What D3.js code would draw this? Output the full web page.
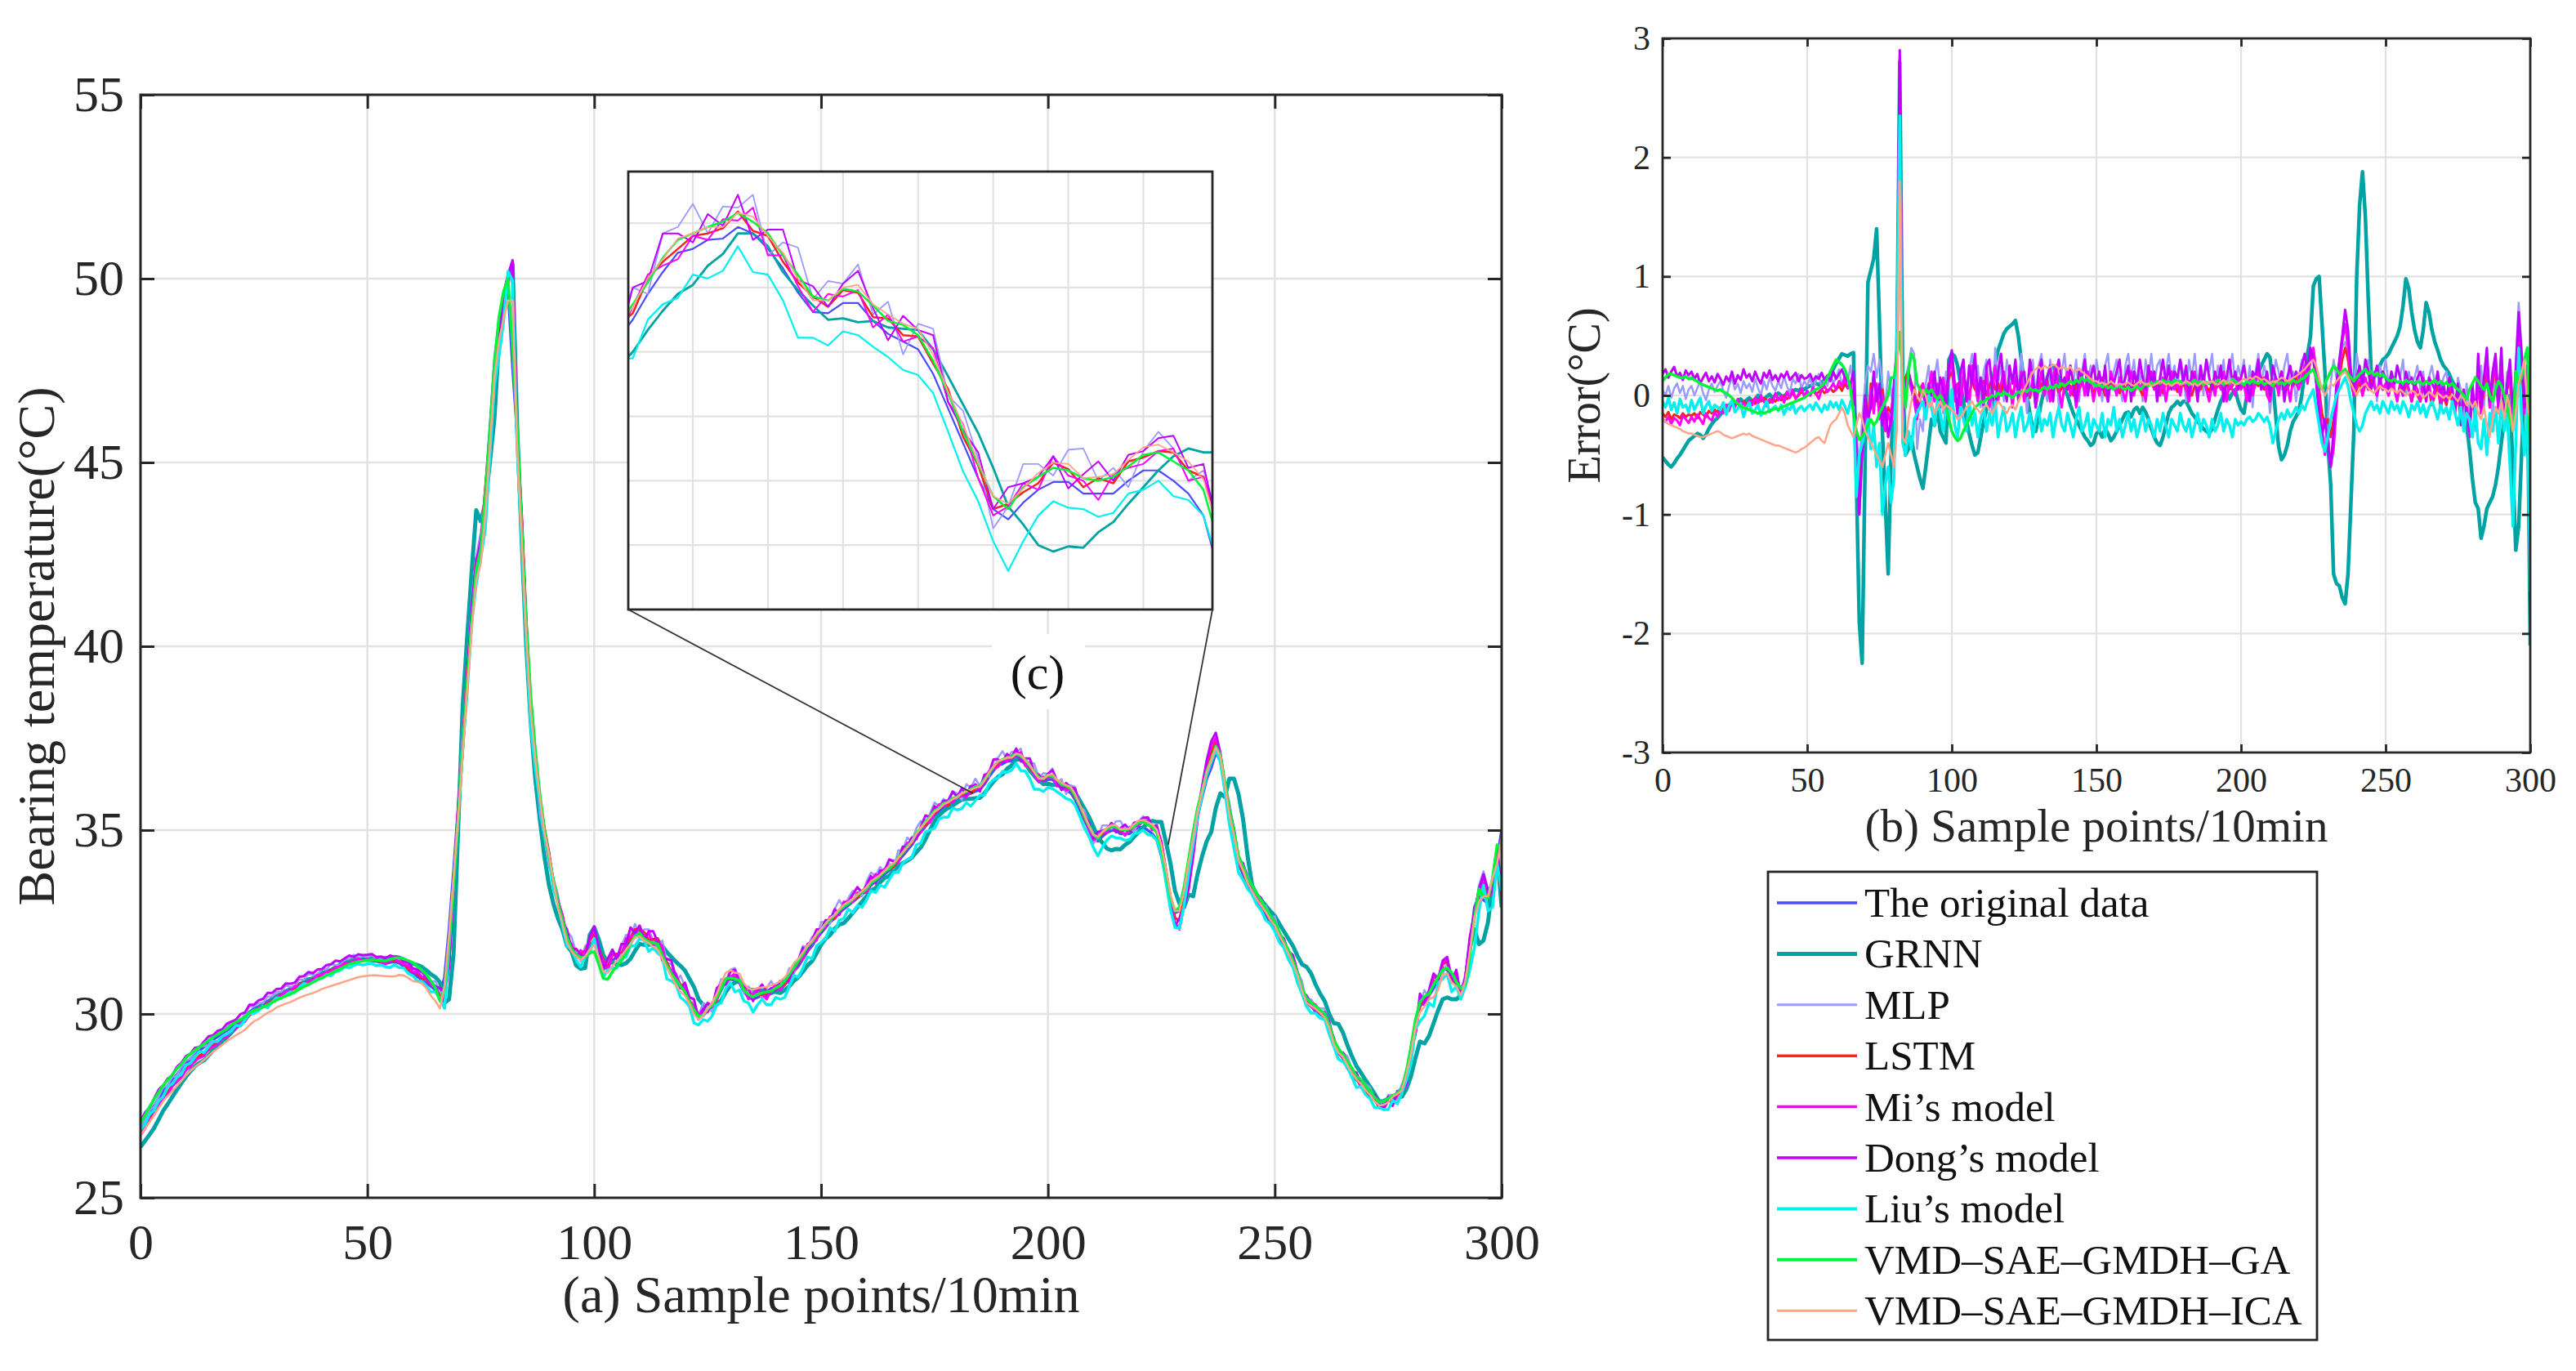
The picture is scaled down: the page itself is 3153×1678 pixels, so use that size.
<!DOCTYPE html>
<html>
<head>
<meta charset="utf-8">
<script src="https://cdn.jsdelivr.net/npm/d3@7/dist/d3.min.js"></script>
<style>
  body { margin: 0; background: #fff; }
</style>
</head>
<body>
<div id="chart"></div>
<script>
// ---- data ----
const sampleTicks = [0, 50, 100, 150, 200, 250, 300]
const tempTicks = [25, 30, 35, 40, 45, 50, 55]
const errorTicks = [-3, -2, -1, 0, 1, 2, 3]
const zoomSampleTicks = [190, 195, 200, 205, 210, 215, 220]
const zoomTempTicks = [34.5, 35, 35.5, 36, 36.5, 37]
const zoomSampleRange = [185.7, 224.6]
const zoomTempRange = [34.0, 37.4]
// points on the curve the zoom connectors point to (sample, temperature)
const calloutPoints = [[183.5, 36.0], [226.5, 34.6]]

const seriesNames = ['The original data', 'GRNN', 'MLP', 'LSTM', 'Mi’s model', 'Dong’s model', 'Liu’s model', 'VMD–SAE–GMDH–GA', 'VMD–SAE–GMDH–ICA']

// measured bearing temperature, one value per sample (°C)
const original = [
  26.90, 27.10, 27.30, 27.50, 27.70, 27.90, 28.05, 28.20, 28.35, 28.50,
  28.65, 28.78, 28.90, 29.00, 29.10, 29.20, 29.30, 29.38, 29.47, 29.55,
  29.65, 29.75, 29.83, 29.92, 30.05, 30.15, 30.20, 30.28, 30.35, 30.42,
  30.50, 30.57, 30.63, 30.68, 30.75, 30.82, 30.88, 30.93, 30.98, 31.04,
  31.10, 31.15, 31.20, 31.25, 31.30, 31.35, 31.40, 31.43, 31.45, 31.46,
  31.46, 31.45, 31.43, 31.40, 31.38, 31.40, 31.42, 31.38, 31.30, 31.20,
  31.10, 31.02, 30.93, 30.85, 30.75, 30.65, 30.50, 31.00, 32.30, 33.90,
  35.60, 37.40, 39.20, 40.90, 42.30, 42.80, 44.20, 45.90, 47.70, 48.80,
  49.50, 49.70, 47.60, 45.80, 43.40, 40.50, 38.30, 36.90, 35.90, 35.00,
  34.30, 33.60, 33.00, 32.50, 32.10, 31.80, 31.62, 31.58, 31.65, 31.85,
  32.00, 31.70, 31.35, 31.30, 31.45, 31.55, 31.65, 31.80, 32.00, 32.20,
  32.25, 32.10, 32.00, 31.95, 31.90, 31.60, 31.30, 31.10, 30.90, 30.75,
  30.60, 30.35, 30.10, 29.90, 29.95, 30.10, 30.20, 30.40, 30.65, 30.90,
  30.95, 30.90, 30.85, 30.60, 30.45, 30.40, 30.45, 30.50, 30.50, 30.55,
  30.60, 30.65, 30.80, 30.95, 31.15, 31.30, 31.50, 31.70, 31.85, 32.05,
  32.20, 32.35, 32.50, 32.60, 32.75, 32.85, 32.95, 33.05, 33.15, 33.25,
  33.35, 33.50, 33.60, 33.70, 33.80, 33.90, 34.00, 34.15, 34.30, 34.45,
  34.60, 34.80, 34.95, 35.10, 35.25, 35.40, 35.50, 35.60, 35.65, 35.75,
  35.80, 35.88, 35.95, 36.00, 36.05, 36.10, 36.25, 36.45, 36.62, 36.77,
  36.80, 36.87, 36.88, 36.97, 36.92, 36.80, 36.65, 36.46, 36.31, 36.30,
  36.38, 36.38, 36.24, 36.14, 36.08, 36.02, 35.83, 35.56, 35.29, 35.02,
  34.78, 34.70, 34.83, 34.93, 34.99, 34.99, 34.90, 34.90, 34.90, 35.00,
  35.08, 35.08, 35.00, 34.90, 34.73, 34.30, 33.70, 33.10, 32.75, 32.80,
  33.30, 34.00, 34.70, 35.40, 35.90, 36.40, 36.70, 37.10, 36.90, 36.20,
  35.40, 34.80, 34.10, 33.80, 33.50, 33.30, 33.10, 32.90, 32.70, 32.50,
  32.35, 32.10, 31.85, 31.60, 31.35, 31.00, 30.60, 30.30, 30.20, 30.10,
  30.00, 29.90, 29.60, 29.20, 28.95, 28.80, 28.60, 28.40, 28.20, 28.10,
  27.95, 27.80, 27.65, 27.50, 27.55, 27.65, 27.75, 27.85, 28.00, 28.40,
  29.00, 29.70, 30.20, 30.40, 30.50, 30.70, 31.00, 31.25, 31.20, 31.00,
  30.80, 30.70, 30.90, 31.80, 32.90, 33.20, 33.10, 33.00, 33.40, 34.20,
  35.00
]

// prediction errors per model, in 0.01 °C (prediction minus original)
const errGRNN = [
  -52, -55, -58, -60, -57, -53, -50, -46, -42, -38,
  -36, -34, -32, -33, -36, -33, -28, -24, -21, -19,
  -16, -13, -10, -8, -6, -8, -5, -3, -6, -4,
  -2, -5, -3, 0, -2, -4, -1, 1, -2, 0,
  2, 0, -1, 2, 4, 3, 5, 4, 6, 5,
  7, 8, 9, 10, 9, 11, 13, 15, 18, 22,
  27, 31, 35, 34, 33, 35, 36, -70, -190, -225,
  -60, 95, 105, 115, 140, 60, -30, -90, -150, -50,
  0, 30, 280, 20, -50, -45, -35, -50, -60, -70,
  -78, -60, -40, -20, -25, -10, -30, -35, -40, 30,
  35, 33, 25, 10, -5, -20, -32, -42, -50, -48,
  -35, -22, -12, -5, 10, 25, 38, 45, 52, 56,
  58, 60, 63, 50, 30, 12, 0, -15, -28, -30,
  -18, -5, 5, 15, 22, 25, 20, 14, 10, 5,
  0, -8, -15, -20, -25, -30, -35, -38, -42, -40,
  -32, -30, -35, -28, -32, -38, -35, -30, -25, -20,
  -15, -14, -18, -12, -10, -15, -10, -14, -20, -28,
  -35, -40, -42, -35, -25, -15, -10, -8, -5, -8,
  -5, -5, -10, -15, -18, -22, -25, -28, -30, -32,
  -28, -20, -12, -5, 0, 2, -3, 2, 5, -5,
  -12, -15, 0, 5, 10, 15, 19, 25, 30, 35,
  32, 10, -17, -43, -54, -50, -42, -30, -22, -18,
  -13, 0, 19, 35, 49, 92, 98, 100, 60, 20,
  -40, -75, -150, -158, -160, -170, -175, -150, -90, -30,
  100, 160, 188, 150, 80, 20, 15, 20, 25, 30,
  32, 35, 40, 45, 50, 58, 75, 98, 90, 70,
  55, 45, 40, 55, 78, 70, 55, 45, 38, 30,
  25, 22, 18, 12, 8, 5, 0, -10, -25, -45,
  -70, -90, -95, -120, -110, -95, -90, -85, -75, -60,
  -40, -20, -5, 0, -60, -130, -110, -50, 10, 20,
  -210
]
const errMLP = [
  5, 0, 8, -2, 6, 10, 2, 8, -3, 5,
  8, 0, 6, 12, 2, -4, 5, 10, 3, 8,
  12, 4, -2, 8, 15, 5, 10, 2, 12, 6,
  10, 3, 14, 6, 0, 12, 5, 15, 8, 4,
  12, 6, 16, 8, 2, 14, 10, 18, 6, 12,
  8, 15, 5, 12, 18, 6, 14, 8, 20, 10,
  15, 22, 8, 18, 12, 25, 5, -30, -60, -20,
  10, 25, 20, 35, 15, 30, 10, -10, 20, 5,
  -20, 10, 270, -30, 15, 25, 40, 35, -45, -20,
  -30, 10, 25, -10, 15, 30, 5, -15, 20, 10,
  35, 5, -20, 15, 30, -5, 20, 35, 10, 25,
  -10, 20, 30, 5, -15, 40, 10, 25, -5, 30,
  15, -10, 25, 5, 35, 10, -15, 20, 30, 0,
  25, 35, 10, -5, 30, 15, 25, -10, 20, 35,
  5, 25, 10, 30, -5, 20, 35, 10, 25, 0,
  30, 15, -5, 25, 35, 5, 20, 30, 10, -5,
  25, 35, 15, 30, 5, 20, -5, 30, 15, 35,
  10, 25, 30, 0, 20, 35, 15, 25, 5, 30,
  20, -5, 30, 15, 35, 10, 25, 0, 30, 20,
  35, 5, 25, 15, 30, -5, 20, 35, 10, 25,
  15, 30, 5, 25, -10, 20, 35, 10, 25, 15,
  -15, 10, 30, 20, 5, 25, 35, 10, 20, -5,
  15, 30, 25, 10, 35, 40, 20, -10, -30, -40,
  -20, 10, 30, 15, 25, 40, 45, 30, 20, 10,
  35, 20, 5, 25, 30, 10, 20, -5, 25, 15,
  30, 10, 20, 5, 25, 15, 30, 0, 20, 10,
  15, 25, 5, 20, -5, 15, 25, 10, 20, 5,
  15, 20, 0, 10, -10, 15, 5, -20, 10, -15,
  5, -30, 10, 25, -10, 30, 5, -20, 25, 10,
  15, -10, 20, 5, -25, 30, 78, 40, 10, 20,
  -160
]
const errLSTM = [
  -15, -18, -14, -20, -16, -17, -19, -15, -18, -16,
  -17, -15, -19, -14, -16, -18, -13, -15, -12, -14,
  -10, -12, -8, -11, -7, -9, -6, -8, -5, -7,
  -6, -4, -7, -3, -5, -2, -4, -6, -3, -5,
  -2, -4, 0, -3, -1, 2, -2, 0, 3, 1,
  2, 0, 4, 1, 3, 5, 2, 4, 6, 3,
  5, 8, 4, 10, 6, 8, -5, -50, -85, -40,
  -5, -20, 10, -10, 5, -15, 5, -20, -10, -15,
  5, 25, 275, -10, 15, 20, 10, 5, -10, 5,
  10, -5, 8, 15, 0, 5, -5, 10, 5, 15,
  20, 5, 10, -5, 15, 8, 0, 12, 5, 10,
  5, 12, 0, 8, 15, 5, 10, 2, 12, 5,
  8, 0, 10, 5, 12, 2, 8, -2, 10, 5,
  3, 10, 5, 12, 0, 8, 10, 2, 6, 10,
  5, 8, 0, 10, 5, 12, 3, 8, 10, 2,
  8, 5, 10, 0, 6, 12, 5, 8, 2, 10,
  5, 10, 3, 8, 12, 5, 0, 10, 8, 12,
  5, 8, 10, 2, 12, 5, 8, 10, 3, 8,
  10, 5, 12, 0, 8, 10, 5, 12, 8, 3,
  10, 5, 8, 12, 2, 10, 5, 8, 12, 5,
  10, 8, 3, 12, 5, 10, 8, 15, 5, 10,
  0, 12, 8, 5, 15, 10, 5, 12, 8, 15,
  10, 15, 22, 18, 30, 35, 20, 5, -15, -25,
  -20, -35, -20, 0, 15, 30, 40, 30, 10, 0,
  5, 12, 0, 10, 5, 15, 8, 0, 10, 5,
  8, 0, 10, 5, -2, 8, 0, 10, 5, -5,
  5, 0, -5, 8, 0, 5, -8, 0, 10, -10,
  0, -8, 5, -5, -12, 0, -15, -5, -10, -25,
  0, -20, 10, -15, 5, 20, -10, 10, 25, -12,
  20, -20, 5, 15, -15, 10, 45, 20, -10, 10,
  -180
]
const errMi = [
  -20, -22, -18, -24, -19, -21, -25, -17, -20, -23,
  -18, -22, -16, -20, -24, -15, -19, -21, -14, -18,
  -12, -15, -8, -13, -5, -10, -3, -9, -6, -11,
  -4, -8, -2, -7, 0, -5, -9, -3, -6, 2,
  -4, 0, -6, 3, -2, 5, -3, 1, 6, -1,
  4, 0, 7, 2, -3, 5, 8, 3, 6, 10,
  5, 12, 8, 15, 6, 10, -10, -60, -100, -45,
  -10, -25, 5, -15, 10, -20, 0, -30, -15, -25,
  0, 30, 285, -15, 10, 15, 5, -5, -20, 0,
  10, -15, 5, 20, -5, 10, -10, 15, 0, 20,
  30, -5, 10, -15, 20, 5, -10, 25, 10, -5,
  15, 0, 20, -10, 5, 25, -5, 10, 20, 0,
  10, -10, 15, 5, 20, -5, 10, 0, 15, -10,
  5, 20, 0, 10, -5, 15, 25, 5, -10, 10,
  20, 0, 10, -10, 5, 15, 0, 20, 10, -5,
  10, 0, 15, 5, -5, 20, 10, 0, 15, 5,
  -5, 10, 20, 0, 15, 5, 10, -5, 15, 20,
  5, 10, 0, 15, -5, 10, 20, 5, 10, 0,
  15, 5, -5, 10, 20, 0, 10, 15, 5, -5,
  10, 0, 15, 5, 20, -5, 10, 5, 0, 15,
  5, 10, -5, 15, 0, 10, 20, 5, 15, 0,
  -5, 10, 15, 0, 20, 5, 10, -5, 15, 10,
  5, 15, 25, 10, 30, 40, 20, 0, -30, -50,
  -35, -60, -45, -10, 20, 45, 60, 40, 15, 0,
  10, 20, 0, 15, 5, 20, 10, 0, 15, 5,
  10, 0, 15, 5, -5, 10, 0, 15, 5, -5,
  10, 5, -5, 15, 0, 10, -5, 5, 15, -10,
  5, -5, 10, 0, -15, 5, -20, 0, -10, -35,
  5, -25, 20, -15, 10, 35, -10, 15, 30, -15,
  35, -25, 5, 25, -20, 15, 62, 30, -15, 20,
  -170
]
const errDong = [
  18, 22, 15, 20, 24, 16, 19, 13, 21, 17,
  20, 14, 18, 10, 15, 19, 12, 16, 11, 18,
  14, 9, 16, 12, 20, 10, 17, 13, 22, 15,
  18, 12, 20, 14, 10, 19, 15, 21, 13, 17,
  12, 18, 15, 20, 13, 16, 19, 12, 17, 14,
  15, 18, 12, 16, 14, 19, 13, 17, 12, 20,
  14, 18, 22, 15, 12, 10, 20, -40, -100, -50,
  0, -20, -10, 20, -5, 10, -25, -10, -35, -20,
  10, 40, 290, -20, 5, 20, 10, 0, -10, -5,
  5, -10, 10, 0, 20, -5, 15, 5, -10, 25,
  38, 10, -15, 20, 30, -5, 25, 10, 35, 0,
  15, -10, 25, 30, 5, -15, 20, 35, 10, -5,
  25, 10, 30, -5, 15, 20, 0, 30, 15, -10,
  20, 30, 5, 15, 25, -5, 20, 30, 10, 15,
  5, 25, 10, -5, 20, 15, 30, 0, 15, 25,
  10, 20, 5, 25, -5, 15, 10, 20, 30, 5,
  15, 25, -5, 20, 10, 30, 15, 5, 25, 10,
  20, -5, 15, 30, 10, 25, 5, 20, 15, 30,
  10, 25, 0, 20, 15, -5, 25, 10, 30, 15,
  5, 20, 10, 25, -5, 15, 30, 10, 20, 5,
  15, 25, 10, -5, 20, 15, 30, 5, 10, 20,
  0, 25, 15, 10, 20, -5, 15, 25, 10, 20,
  15, 25, 35, 20, 40, 30, 10, -15, -35, -20,
  -40, -60, -30, 10, 30, 50, 72, 55, 20, 5,
  15, 25, 10, 30, 20, 5, 15, 25, 10, 20,
  15, 5, 20, 10, 25, 15, 0, 20, 10, 15,
  5, 15, 20, 10, -5, 15, 10, 5, 20, 0,
  10, -5, 15, 5, -10, 10, -25, 5, -15, -30,
  10, -20, 35, -10, 15, 40, -5, 20, 35, -10,
  40, -20, 10, 30, -15, 20, 70, 35, -10, 25,
  -165
]
const errLiu = [
  -5, -10, -2, -12, -6, -15, -3, -10, -8, -14,
  -4, -12, -7, -2, -15, -9, -5, -13, -8, -10,
  -12, -6, -16, -9, -4, -14, -11, -7, -18, -10,
  -6, -15, -12, -8, -17, -10, -5, -14, -11, -9,
  -13, -8, -16, -10, -12, -7, -15, -11, -9, -13,
  -10, -8, -12, -6, -10, -14, -8, -12, -5, -10,
  -6, -12, -4, -9, -15, -5, -10, -85, -50, -40,
  -30, -20, -45, -25, -60, -40, -100, -75, -60, -90,
  -70, 50, 235, -40, -50, -30, -45, -20, -15, -10,
  -5, -20, 0, -10, -25, -5, -15, -30, -10, -20,
  5, -25, -35, -10, -20, -30, -5, -25, -15, -35,
  -20, -10, -30, -15, -25, -5, -35, -20, -10, -30,
  -25, -15, -35, -20, -10, -30, -25, -15, -35, -20,
  -10, -30, -20, -25, -15, -35, -20, -10, -25, -30,
  -15, -25, -35, -20, -10, -30, -25, -15, -35, -20,
  -25, -30, -15, -35, -20, -25, -10, -30, -20, -35,
  -25, -15, -30, -20, -35, -25, -15, -30, -20, -25,
  -35, -20, -30, -15, -25, -35, -20, -25, -30, -15,
  -25, -30, -20, -35, -25, -15, -30, -20, -25, -35,
  -20, -30, -25, -15, -30, -20, -25, -35, -20, -25,
  -22, -25, -20, -18, -22, -20, -15, -18, -22, -18,
  -25, -40, -30, -20, -15, -20, -12, -18, -15, -10,
  -15, -8, -12, -5, 0, 5, -10, -25, -40, -47,
  -35, -20, -10, 0, 5, 10, 15, 8, -5, -15,
  -25, -30, -25, -15, -10, -5, -12, -8, -15, -5,
  -10, -15, -5, -12, -8, -15, -5, -10, -18, -8,
  -12, -5, -15, -8, -18, -10, -5, -12, -20, -8,
  -15, -10, -20, -5, -15, -25, -10, -30, -15, -20,
  -35, -10, -40, -45, -20, -50, -15, -30, -10, -40,
  -5, -30, -15, -60, -110, -40, 40, -20, -50, -10,
  -165
]
const errGA = [
  12, 15, 18, 18, 17, 16, 15, 15, 16, 14,
  15, 13, 12, 10, 9, 8, 7, 6, 5, 4,
  5, 3, 2, 0, -2, -5, -7, -9, -10, -11,
  -12, -13, -14, -15, -14, -15, -14, -13, -12, -11,
  -12, -10, -9, -8, -7, -6, -5, -4, -3, -2,
  0, 2, 3, 5, 6, 8, 10, 15, 20, 25,
  30, 28, 26, 22, 15, 5, -15, -30, -37, -35,
  -30, -25, -20, -25, -22, -15, -10, -5, 0, 15,
  15, 30, 53, 20, -10, 20, 35, 30, 10, 5,
  0, 5, 2, 5, 0, -3, 0, -5, -10, -20,
  -30, -35, -38, -36, -30, -25, -20, -15, -10, -8,
  -5, -6, -3, -2, 0, -1, 2, 0, 3, 1,
  0, -2, 1, 3, 2, 5, 3, 6, 4, 5,
  3, 5, 7, 5, 8, 6, 9, 7, 10, 8,
  10, 12, 10, 13, 11, 15, 12, 14, 11, 10,
  8, 10, 7, 9, 6, 8, 5, 7, 9, 6,
  5, 7, 4, 6, 8, 5, 7, 10, 8, 11,
  9, 12, 10, 13, 11, 12, 10, 13, 11, 12,
  10, 12, 9, 11, 13, 10, 12, 9, 11, 10,
  12, 10, 13, 11, 9, 12, 10, 14, 12, 10,
  11, 9, 12, 10, 13, 11, 10, 12, 9, 11,
  10, 8, 12, 10, 11, 9, 12, 10, 13, 11,
  12, 14, 15, 18, 20, 22, 15, 8, 5, 10,
  15, 20, 25, 22, 18, 20, 22, 18, 15, 12,
  15, 18, 20, 22, 18, 20, 17, 19, 16, 18,
  15, 13, 12, 14, 11, 12, 10, 13, 11, 12,
  10, 12, 11, 9, 12, 10, 11, 13, 10, 12,
  9, 11, 8, 10, 7, 5, 3, 0, -3, 5,
  10, 15, 12, 8, 5, 10, 0, -5, 5, 12,
  8, 0, -10, -20, -30, 20, 10, 15, 30, 40,
  -50
]
const errICA = [
  -20, -22, -24, -25, -26, -27, -28, -30, -31, -32,
  -32, -33, -34, -35, -35, -34, -33, -32, -31, -30,
  -31, -33, -34, -35, -36, -35, -34, -33, -32, -33,
  -32, -34, -35, -36, -37, -38, -39, -40, -41, -42,
  -42, -43, -44, -45, -46, -47, -48, -47, -45, -44,
  -42, -40, -38, -36, -35, -38, -40, -32, -25, -22,
  -20, -15, -10, -15, -25, -30, -35, -25, -15, -20,
  -30, -35, -40, -45, -50, -55, -60, -50, -40, -50,
  -60, -30, 180, -35, -40, -20, -5, 5, 0, -5,
  5, 0, -10, -5, -15, -10, -5, -12, -8, -10,
  -12, -15, -20, -18, -15, -10, -8, -5, -10, -12,
  -15, -10, -8, -12, -15, -10, -5, -8, -12, -15,
  -10, -8, -12, -5, 0, 5, 10, 15, 20, 22,
  24, 22, 25, 23, 24, 26, 25, 22, 24, 23,
  22, 24, 20, 21, 23, 20, 18, 16, 14, 12,
  12, 10, 11, 9, 10, 12, 10, 8, 10, 9,
  10, 11, 9, 8, 10, 12, 11, 9, 10, 8,
  9, 10, 12, 11, 9, 10, 8, 10, 11, 9,
  10, 12, 11, 9, 10, 8, 10, 12, 10, 11,
  12, 10, 9, 11, 13, 10, 12, 11, 9, 10,
  12, 14, 13, 15, 14, 16, 15, 13, 14, 12,
  10, 12, 11, 13, 15, 14, 12, 13, 15, 16,
  18, 20, 22, 25, 28, 30, 25, 15, 5, 0,
  5, 10, 8, 12, 15, 18, 20, 15, 10, 5,
  0, 5, 8, 10, 6, 4, 2, 5, 8, 6,
  5, 3, 6, 4, 2, 5, 3, 0, 2, 4,
  3, 0, 2, -2, 0, 3, 1, -1, 2, 0,
  -2, 0, -3, 1, -2, -5, 0, -3, -8, -5,
  -10, -5, -15, -20, -10, -25, -35, -20, -10, -15,
  -5, -20, 0, -10, -30, -15, 10, 20, 30, -10,
  -20
]

// ---- styles ----
const seriesColors = ['#4b4bff', '#00a3a3', '#9a9aff', '#ff2020', '#ff00ff', '#c000ff', '#00f0f0', '#00f53a', '#ffa487']
const mainWidths = [3.5, 5, 2.5, 3.5, 3, 3, 3.5, 3.5, 2.5]
const errWidths = [3, 4.5, 2.5, 3, 3, 3, 3.5, 3.5, 2.5]
const zoomWidths = [2.2, 2.8, 1.8, 2.5, 2, 2, 2.2, 2.5, 1.8]
const FONT = '"Liberation Serif", "Times New Roman", serif'
const INK = '#262626'
const GRID = '#e2e2e2'

// model predictions = original + error
const errors = [null, errGRNN, errMLP, errLSTM, errMi, errDong, errLiu, errGA, errICA]
const predictions = errors.map(function (e) {
  if (!e) return original
  return original.map(function (v, i) { return v + e[i] / 100 })
})

const svg = d3.select('#chart')
  .append('svg')
  .attr('width', 3153)
  .attr('height', 1678)
  .attr('font-family', FONT)

/**
 * light grid lines inside one axes
 */
function drawFrame (g, xs, ys, xt, yt, o) {
  const [xa, xb] = xs.range()
  const [yb, ya] = ys.range()

  g.append('g').selectAll('line').data(xt.filter(d => d > xs.domain()[0] && d < xs.domain()[1])).join('line')
    .attr('x1', d => xs(d)).attr('x2', d => xs(d))
    .attr('y1', ya).attr('y2', yb)
    .attr('stroke', GRID).attr('stroke-width', o.grid)
  g.append('g').selectAll('line').data(yt.filter(d => d > ys.domain()[0] && d < ys.domain()[1])).join('line')
    .attr('y1', d => ys(d)).attr('y2', d => ys(d))
    .attr('x1', xa).attr('x2', xb)
    .attr('stroke', GRID).attr('stroke-width', o.grid)
}

/**
 * inward ticks on all four sides plus the box, MATLAB style
 */
function drawBox (g, xs, ys, xt, yt, o) {
  const [xa, xb] = xs.range()
  const [yb, ya] = ys.range()

  if (o.tick) {
    const fmt = d => String(d)
    const axes = [
      [d3.axisBottom(xs).tickValues(xt).tickFormat(o.labels ? fmt : ''), 0, yb],
      [d3.axisTop(xs).tickValues(xt).tickFormat(''), 0, ya],
      [d3.axisLeft(ys).tickValues(yt).tickFormat(o.labels ? fmt : ''), xa, 0],
      [d3.axisRight(ys).tickValues(yt).tickFormat(''), xb, 0]
    ]
    axes.forEach(function (a, k) {
      const ax = g.append('g')
        .attr('transform', 'translate(' + a[1] + ',' + a[2] + ')')
        .call(a[0].tickSize(-o.tick).tickPadding(k === 0 ? o.xPad : o.yPad))
      ax.attr('font-family', FONT).attr('font-size', o.font)
      ax.select('.domain').remove()
      ax.selectAll('line').attr('stroke', INK).attr('stroke-width', o.stroke)
      ax.selectAll('text').attr('fill', INK)
    })
  }

  g.append('rect')
    .attr('x', xa).attr('y', ya)
    .attr('width', xb - xa).attr('height', yb - ya)
    .attr('fill', 'none').attr('stroke', INK).attr('stroke-width', o.stroke)
}

function drawSeries (g, xs, ys, data, widths, clipId, skipFirst) {
  const line = d3.line()
    .x(function (d, i) { return xs(i) })
    .y(function (d) { return ys(d) })
  data.forEach(function (s, k) {
    if (skipFirst && k === 0) return
    g.append('path')
      .datum(s)
      .attr('clip-path', 'url(#' + clipId + ')')
      .attr('fill', 'none')
      .attr('stroke', seriesColors[k])
      .attr('stroke-width', widths[k])
      .attr('stroke-linejoin', 'round')
      .attr('d', line)
  })
}

function addClip (id, xs, ys) {
  svg.append('clipPath').attr('id', id)
    .append('rect')
    .attr('x', xs.range()[0]).attr('y', ys.range()[1])
    .attr('width', xs.range()[1] - xs.range()[0])
    .attr('height', ys.range()[0] - ys.range()[1])
}

// ---- (a) temperature ----
const x = d3.scaleLinear().domain([0, 300]).range([172, 1838])
const y = d3.scaleLinear().domain([25, 55]).range([1466, 116])
const gA = svg.append('g')
addClip('clipA', x, y)
drawFrame(gA, x, y, sampleTicks, tempTicks, { grid: 2.5 })
drawSeries(gA, x, y, predictions, mainWidths, 'clipA', false)
drawBox(gA, x, y, sampleTicks, tempTicks, { tick: 17, stroke: 3, font: 62, xPad: 31, yPad: 20, labels: true })

gA.append('text')
  .attr('x', (x.range()[0] + x.range()[1]) / 2).attr('y', 1606)
  .attr('text-anchor', 'middle').attr('font-size', 64).attr('fill', INK)
  .text('(a) Sample points/10min')
gA.append('text')
  .attr('transform', 'translate(66,' + (y.range()[0] + y.range()[1]) / 2 + ') rotate(-90)')
  .attr('text-anchor', 'middle').attr('font-size', 64).attr('fill', INK)
  .text('Bearing temperature(°C)')

// ---- (c) zoomed inset ----
const ix = d3.scaleLinear().domain(zoomSampleRange).range([769, 1484])
const iy = d3.scaleLinear().domain(zoomTempRange).range([746, 210])
const gC = svg.append('g')
addClip('clipC', ix, iy)
gC.append('rect')
  .attr('x', ix.range()[0]).attr('y', iy.range()[1])
  .attr('width', ix.range()[1] - ix.range()[0]).attr('height', iy.range()[0] - iy.range()[1])
  .attr('fill', '#fff')
drawFrame(gC, ix, iy, zoomSampleTicks, zoomTempTicks, { grid: 2.2 })
drawSeries(gC, ix, iy, predictions, zoomWidths, 'clipC', false)
drawBox(gC, ix, iy, zoomSampleTicks, zoomTempTicks, { tick: 0, stroke: 2.8 })

// connectors from the inset corners to the zoomed stretch of the curve
const insetCorners = [[ix.range()[0], iy.range()[0]], [ix.range()[1], iy.range()[0]]]
gC.selectAll('line.callout').data(calloutPoints).join('line')
  .attr('class', 'callout')
  .attr('x1', (d, i) => insetCorners[i][0]).attr('y1', (d, i) => insetCorners[i][1])
  .attr('x2', d => x(d[0])).attr('y2', d => y(d[1]))
  .attr('stroke', '#333').attr('stroke-width', 1.8)

gC.append('rect')
  .attr('x', 1214).attr('y', 776).attr('width', 114).attr('height', 92)
  .attr('fill', '#fff')
gC.append('text')
  .attr('x', 1270).attr('y', 843)
  .attr('text-anchor', 'middle').attr('font-size', 60).attr('fill', '#111')
  .text('(c)')

// ---- (b) error ----
const ex = d3.scaleLinear().domain([0, 300]).range([2035, 3097])
const ey = d3.scaleLinear().domain([-3, 3]).range([921, 47])
const errData = errors.map(function (e) { return e ? e.map(function (v) { return v / 100 }) : [] })
const gB = svg.append('g')
addClip('clipB', ex, ey)
drawFrame(gB, ex, ey, sampleTicks, errorTicks, { grid: 2.2 })
drawSeries(gB, ex, ey, errData, errWidths, 'clipB', true)
drawBox(gB, ex, ey, sampleTicks, errorTicks, { tick: 10, stroke: 2.8, font: 42, xPad: 18, yPad: 15, labels: true })

gB.append('text')
  .attr('x', (ex.range()[0] + ex.range()[1]) / 2).attr('y', 1030)
  .attr('text-anchor', 'middle').attr('font-size', 57).attr('fill', INK)
  .text('(b) Sample points/10min')
gB.append('text')
  .attr('transform', 'translate(1958,' + (ey.range()[0] + ey.range()[1]) / 2 + ') rotate(-90)')
  .attr('text-anchor', 'middle').attr('font-size', 56).attr('fill', INK)
  .text('Error(°C)')

// ---- legend ----
const legend = svg.append('g').attr('transform', 'translate(2164,1067)')
legend.append('rect')
  .attr('width', 672).attr('height', 573)
  .attr('fill', '#fff').attr('stroke', INK).attr('stroke-width', 2.8)
const rows = legend.selectAll('g.row').data(seriesNames).join('g')
  .attr('class', 'row')
  .attr('transform', (d, i) => 'translate(0,' + (38 + i * 62.4) + ')')
rows.append('line')
  .attr('x1', 11).attr('x2', 109)
  .attr('stroke', (d, i) => seriesColors[i])
  .attr('stroke-width', (d, i) => errWidths[i] + 0.5)
rows.append('text')
  .attr('x', 118).attr('y', 17)
  .attr('font-size', 51).attr('fill', '#111')
  .text(d => d)
</script>
</body>
</html>
